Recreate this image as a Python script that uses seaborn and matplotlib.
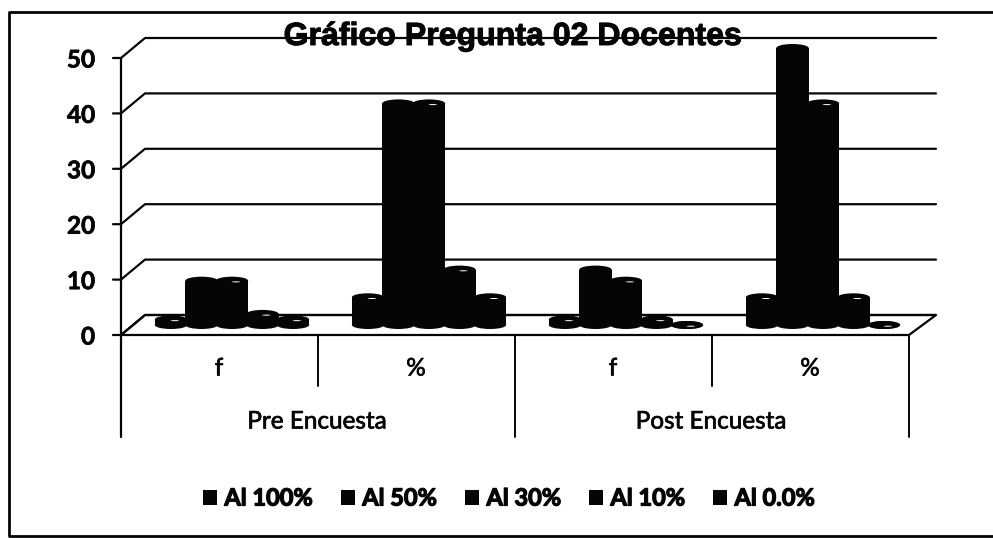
import numpy as np
import pandas as pd
import matplotlib
matplotlib.use("Agg")
import matplotlib.pyplot as plt
import seaborn as sns
import matplotlib.patheffects as pe
from matplotlib.patches import Ellipse, Polygon

GROUPS = ["Pre f", "Pre %", "Post f", "Post %"]
SUB_LABELS = ["f", "%", "f", "%"]
OUTER_LABELS = ["Pre Encuesta", "Post Encuesta"]
SERIES = ["Al 100%", "Al 50%", "Al 30%", "Al 10%", "Al 0.0%"]
AL_100 = [1, 5, 1, 5]
AL_50 = [8, 40, 10, 50]
AL_30 = [8, 40, 8, 40]
AL_10 = [2, 10, 1, 5]
AL_00 = [1, 5, 0, 0]
Y_TICKS = [0, 10, 20, 30, 40, 50]

W, H = 993, 538
PX_PER_UNIT = 5.54
INK = "#050505"

sns.set_theme(style="white")
plt.rcParams["font.family"] = ["Lato", "DejaVu Sans"]

df = pd.DataFrame({"group": GROUPS, "Al 100%": AL_100, "Al 50%": AL_50,
                   "Al 30%": AL_30, "Al 10%": AL_10, "Al 0.0%": AL_00})
df = df.melt(id_vars="group", var_name="serie", value_name="valor")

fig = plt.figure(figsize=(W / 100, H / 100), dpi=100, facecolor="white")

# back layer, in pixels: walls, floor, frame, labels
deco = fig.add_axes([0, 0, 1, 1], zorder=1)
deco.set_xlim(0, W)
deco.set_ylim(H, 0)
deco.axis("off")

thick = [pe.withStroke(linewidth=0.5, foreground=INK)]

for v in Y_TICKS:
    front = 335 - v * PX_PER_UNIT
    back = 315 - v * PX_PER_UNIT
    deco.plot([113, 121, 145, 936], [front, front, back, back], color=INK, lw=1.6)
    deco.text(95, front + 2, str(v), ha="right", va="center", fontsize=17.5,
              fontweight="bold", color=INK, path_effects=thick)
deco.plot([121, 121], [335 - 50 * PX_PER_UNIT, 437], color=INK, lw=1.6)
deco.add_patch(Polygon([[121, 335], [909, 335], [936, 315], [145, 315]],
                       fill=False, ec=INK, lw=1.6))

for x, bottom in [(318, 386), (515, 437), (712, 386), (909, 437)]:
    deco.plot([x, x], [335, bottom], color=INK, lw=1.4)
for x, lab in zip([219, 416, 613, 810], SUB_LABELS):
    deco.text(x, 369, lab, ha="center", va="center", fontsize=17.5, color=INK,
              path_effects=thick)
for x, lab in zip([317, 711], OUTER_LABELS):
    deco.text(x, 422, lab, ha="center", va="center", fontsize=17.5, color=INK,
              path_effects=thick)

# chart border: no right side, top and bottom run off the crop
deco.plot([W, 9, 9, W], [12, 12, 536, 536], color=INK, lw=2)

# bars on their own axes, 197 px per group, base at y=325
ax = fig.add_axes([0, 0, 1, 1], zorder=2)
ax.patch.set_alpha(0)
sns.barplot(data=df, x="group", y="valor", hue="serie", hue_order=SERIES,
            order=GROUPS, palette=[INK] * 5, width=0.774, gap=0, ax=ax,
            saturation=1, errorbar=None, linewidth=0)
ax.set_xlim(-232 / 197, (W - 232) / 197)
ax.set_ylim(-(H - 325) / PX_PER_UNIT, 325 / PX_PER_UNIT)
handles, labels = ax.get_legend_handles_labels()
ax.get_legend().remove()
ax.axis("off")

cap_h = 8 / PX_PER_UNIT
for name, bar in zip(SERIES, ax.containers):
    for p in bar:
        # bars overlap a little, the way the 3D columns do
        p.set_x(p.get_x() - p.get_width() * 0.03)
        p.set_width(p.get_width() * 1.06)
        cx = p.get_x() + p.get_width() / 2
        top = p.get_height()
        w = p.get_width()
        ax.add_patch(Ellipse((cx, 0), w, cap_h, fc=INK, ec="none", zorder=3))
        ax.add_patch(Ellipse((cx, top), w, cap_h, fc=INK, ec="none", zorder=3))
        if name != "Al 50%":
            # small glint on the cap
            ax.add_patch(Ellipse((cx + w * 0.12, top - 1.2 / PX_PER_UNIT), w * 0.26,
                                 cap_h * 0.13, angle=0, fc="white", ec="none", zorder=4))

leg = ax.legend(handles, labels, ncols=5, loc="center",
                bbox_to_anchor=(509 / W, 1 - 498 / H), frameon=False,
                prop={"family": "Lato", "weight": "bold", "size": 17},
                handlelength=0.6, handleheight=0.6, handletextpad=0.3,
                columnspacing=1.19, labelcolor=INK)
for t in leg.get_texts():
    t.set_path_effects([pe.withStroke(linewidth=0.9, foreground=INK)])

# title goes over the top gridline, as in the picture
fig.text(513 / W, 1 - 37 / H, "Gráfico Pregunta 02 Docentes", ha="center", va="center",
         fontsize=23.1, fontweight="bold", family="Liberation Sans", color=INK, zorder=5,
         path_effects=[pe.withStroke(linewidth=0.7, foreground=INK)])

fig.savefig("out.png", dpi=100)
